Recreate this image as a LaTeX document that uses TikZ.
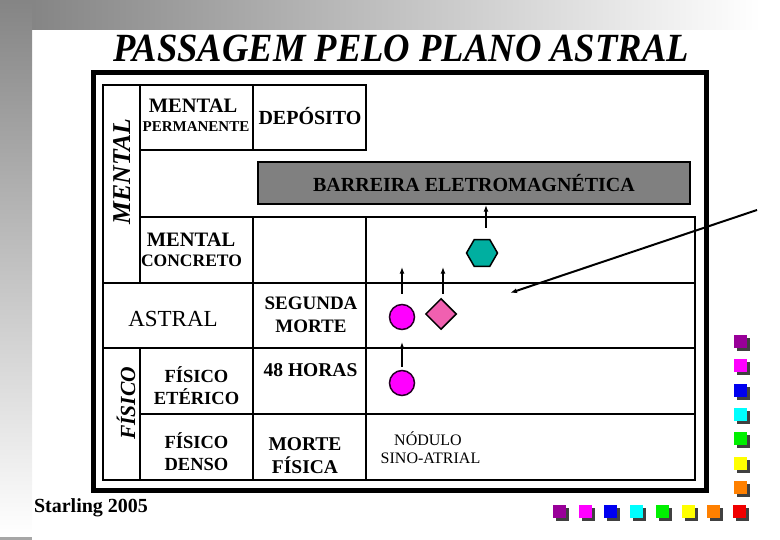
\documentclass[tikz,border=0pt]{standalone}
\usepackage{fontspec}
\setmainfont{Liberation Serif}
\usetikzlibrary{arrows.meta,shapes.geometric}
\definecolor{bargray}{RGB}{128,128,128}
\definecolor{hexteal}{RGB}{0,175,160}
\definecolor{dotmag}{RGB}{255,0,255}
\definecolor{dmpink}{RGB}{240,96,176}
\definecolor{sqpu}{RGB}{153,0,153}
\definecolor{sqma}{RGB}{255,0,255}
\definecolor{sqbl}{RGB}{0,0,240}
\definecolor{sqcy}{RGB}{0,255,255}
\definecolor{sqgr}{RGB}{0,240,0}
\definecolor{sqye}{RGB}{255,255,0}
\definecolor{sqor}{RGB}{255,128,0}
\definecolor{sqre}{RGB}{240,0,0}
\newcommand\fsz[1]{\fontsize{#1}{#1}\selectfont}

\begin{document}
\begin{tikzpicture}[x=1pt,y=-1pt,>={Latex[length=7pt,width=5pt]}]
\tikzstyle{cell}=[draw,line width=2.5pt,inner sep=0pt,minimum width=113pt,minimum height=66pt]
\tikzstyle{wide}=[cell,minimum width=329pt]
\tikzstyle{tx}=[anchor=base,inner sep=0pt,font=\bfseries\fsz{19.5}]
\tikzstyle{vlab}=[anchor=base,inner sep=0pt,rotate=90]
\tikzstyle{dot}=[circle,draw=black!85!dotmag,line width=1.5pt,fill=dotmag,minimum size=25pt,inner sep=0pt]
\tikzstyle{arr}=[->,line width=1.5pt]
\useasboundingbox (0,0) rectangle (780,540);
% slide backdrop
\shade[left color=black!50,right color=white] (0,0) rectangle (760,30);
\shade[top color=black!48,bottom color=white] (0,0) rectangle (32,535);
\fill[black!35] (0,537) rectangle (32,540);
\node[anchor=base,inner sep=0pt,font=\bfseries\itshape\fsz{40}] (title) at (401,62) {\scalebox{0.915}[1]{PASSAGEM PELO PLANO ASTRAL}};
\draw[line width=5pt] (93,73) rectangle (706,490);
% table
\node[cell,minimum width=37pt,minimum height=198pt] (lm) at (121.5,184) {};
\node[cell,minimum height=65pt] (mp) at (196.5,117.5) {};
\node[cell,minimum height=65pt] (dep) at (309.5,117.5) {};
\node[cell] (mc) at (196.5,250) {};
\node[cell] (e1) at (309.5,250) {};
\node[wide] (r1) at (530.5,250) {};
\node[cell,minimum width=150pt,minimum height=65pt] (ast) at (178,315.5) {};
\node[cell,minimum height=65pt] (sm) at (309.5,315.5) {};
\node[wide,minimum height=65pt] (r2) at (530.5,315.5) {};
\node[cell,minimum width=37pt,minimum height=132pt] (lf) at (121.5,414) {};
\node[cell] (fe) at (196.5,381) {};
\node[cell] (hd) at (309.5,381) {};
\node[wide] (r3) at (530.5,381) {};
\node[cell] (fd) at (196.5,447) {};
\node[cell] (mf) at (309.5,447) {};
\node[wide] (r4) at (530.5,447) {};
\node[draw,line width=1.5pt,fill=bargray,minimum width=432pt,minimum height=42pt,inner sep=0pt,font=\bfseries\fsz{20}] (bar) at (474,183) {BARREIRA ELETROMAGNÉTICA};
% labels
\node[vlab,font=\bfseries\itshape\fsz{25.7}] (lmt) at (130,171.5) {MENTAL};
\node[vlab,font=\bfseries\itshape\fsz{21.5}] (lft) at (135,403.5) {FÍSICO};
\node[tx,font=\bfseries\fsz{20.5}] (mp1) at (193,113) {MENTAL};
\node[tx,font=\bfseries\fsz{15}] (mp2) at (196,132) {PERMANENTE};
\node[tx,font=\bfseries\fsz{20}] (dept) at (310,125) {DEPÓSITO};
\node[tx,font=\bfseries\fsz{20.5}] (mc1) at (191,247) {MENTAL};
\node[tx,font=\bfseries\fsz{17.5}] (mc2) at (191.5,267) {CONCRETO};
\node[tx,font=\fsz{23}] (astt) at (173,327) {ASTRAL};
\node[tx,font=\bfseries\fsz{19}] (sm1) at (311,310) {SEGUNDA};
\node[tx,font=\bfseries\fsz{19}] (sm2) at (311,333) {MORTE};
\node[tx,font=\bfseries\fsz{18.5}] (fe1) at (196.5,382) {FÍSICO};
\node[tx,font=\bfseries\fsz{18.5}] (fe2) at (196.5,405) {ETÉRICO};
\node[tx] (hdt) at (310.5,377) {48 HORAS};
\node[tx,font=\bfseries\fsz{18.5}] (fd1) at (196.5,448) {FÍSICO};
\node[tx,font=\bfseries\fsz{18.5}] (fd2) at (196.5,470) {DENSO};
\node[tx] (mf1) at (305,450) {MORTE};
\node[tx] (mf2) at (305,473) {FÍSICA};
\node[tx,font=\fsz{16}] (na1) at (428,445) {NÓDULO};
\node[tx,font=\fsz{16}] (na2) at (430.5,463) {SINO-ATRIAL};
\node[tx,font=\bfseries\fsz{20}] (star) at (91,512) {Starling 2005};
% shapes and arrows
\node[regular polygon,regular polygon sides=6,draw,line width=1.5pt,fill=hexteal,minimum size=31pt,inner sep=0pt] (hx) at (482,253) {};
\node[dot] (c1) at (402,317) {};
\node[diamond,draw,line width=1.5pt,fill=dmpink,minimum width=31pt,minimum height=31pt,inner sep=0pt] (dm) at (441,314) {};
\node[dot] (c2) at (402,383) {};
\coordinate (hxa) at (486,228);
\draw[arr] (hxa) -- (hxa |- bar.south);
\draw[arr] ([yshift=10pt]c1.north) -- ++(0,-27);
\draw[arr] ([xshift=2pt,yshift=4pt]dm.north) -- ++(0,-27);
\draw[arr] ([yshift=3pt]c2.north) -- ++(0,-25);
\coordinate (ptr) at (757,210);
\coordinate (ptd) at (510,293);
\draw[arr,line width=2pt] (ptr) -- (ptd);
% colour squares
\foreach \c [count=\i from 0] in {sqpu,sqma,sqbl,sqcy,sqgr,sqye,sqor}{
  \fill[black!75] (737,{338+24.3*\i}) rectangle ++(13,13);
  \fill[\c] (734,{335+24.3*\i}) rectangle ++(13,13);
}
\foreach \c [count=\i from 0] in {sqpu,sqma,sqbl,sqcy,sqgr,sqye,sqor,sqre}{
  \fill[black!75] ({556+25.7*\i},508) rectangle ++(13,13);
  \fill[\c] ({553+25.7*\i},505) rectangle ++(13,13);
}
\end{tikzpicture}
\end{document}
